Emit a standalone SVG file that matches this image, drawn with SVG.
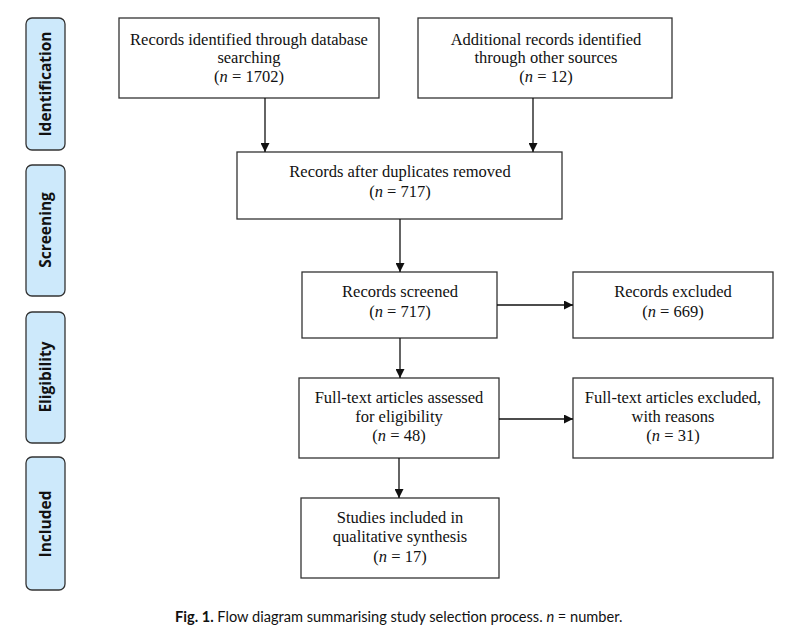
<svg xmlns="http://www.w3.org/2000/svg" width="800" height="643" viewBox="0 0 800 643">
<defs>
<marker id="ah" viewBox="0 0 10 10" refX="10" refY="5" markerWidth="9" markerHeight="9" markerUnits="userSpaceOnUse" orient="auto">
<path d="M0,0 L10,5 L0,10 z" fill="#111"/>
</marker>
<style>
.box{fill:#fff;stroke:#333;stroke-width:1.3}
.phase{fill:#cde9fb;stroke:#333;stroke-width:1.3}
.t{font-family:"Liberation Serif","Times New Roman",serif;font-size:16.5px;fill:#111;text-anchor:middle}
.p{font-family:"Open Sans","Noto Sans",sans-serif;font-size:15.5px;font-weight:bold;fill:#111;text-anchor:middle}
.c{font-family:Lato,"Noto Sans",sans-serif;font-size:14.6px;fill:#111}
.ln{stroke:#111;stroke-width:1.3;fill:none}
</style>
</defs>
<rect width="800" height="643" fill="#fff"/>
<g id="phase-identification"><rect class="phase" x="26" y="18" width="39" height="132" rx="6"/><text class="p" transform="translate(51,84) rotate(-90)">Identification</text></g>
<g id="phase-screening"><rect class="phase" x="26" y="165" width="39" height="131" rx="6"/><text class="p" transform="translate(51,230) rotate(-90)">Screening</text></g>
<g id="phase-eligibility"><rect class="phase" x="26" y="312" width="39" height="131" rx="6"/><text class="p" transform="translate(51,377) rotate(-90)">Eligibility</text></g>
<g id="phase-included"><rect class="phase" x="26" y="457" width="39" height="133" rx="6"/><text class="p" transform="translate(51,524) rotate(-90)">Included</text></g>

<g id="n-db"><rect class="box" x="119" y="18" width="260" height="80"/>
<text class="t" x="249" y="45">Records identified through database</text>
<text class="t" x="249" y="63">searching</text>
<text class="t" x="249" y="82">(<tspan font-style="italic">n</tspan> = 1702)</text></g>
<g id="n-other"><rect class="box" x="418" y="18" width="254" height="80"/>
<text class="t" x="546" y="45">Additional records identified</text>
<text class="t" x="546" y="63">through other sources</text>
<text class="t" x="546" y="82">(<tspan font-style="italic">n</tspan> = 12)</text></g>
<g id="n-dup"><rect class="box" x="237" y="152" width="325" height="67"/>
<text class="t" x="400" y="177">Records after duplicates removed</text>
<text class="t" x="400" y="197">(<tspan font-style="italic">n</tspan> = 717)</text></g>
<g id="n-screened"><rect class="box" x="302" y="272" width="195" height="66"/>
<text class="t" x="400" y="297">Records screened</text>
<text class="t" x="400" y="317">(<tspan font-style="italic">n</tspan> = 717)</text></g>
<g id="n-excluded"><rect class="box" x="573" y="272" width="200" height="66"/>
<text class="t" x="673" y="297">Records excluded</text>
<text class="t" x="673" y="317">(<tspan font-style="italic">n</tspan> = 669)</text></g>
<g id="n-fulltext"><rect class="box" x="299" y="378" width="200" height="80"/>
<text class="t" x="399" y="403">Full-text articles assessed</text>
<text class="t" x="399" y="422">for eligibility</text>
<text class="t" x="399" y="441">(<tspan font-style="italic">n</tspan> = 48)</text></g>
<g id="n-ftexcluded"><rect class="box" x="573" y="378" width="200" height="80"/>
<text class="t" x="673" y="403">Full-text articles excluded,</text>
<text class="t" x="673" y="422">with reasons</text>
<text class="t" x="673" y="441">(<tspan font-style="italic">n</tspan> = 31)</text></g>
<g id="n-included"><rect class="box" x="301" y="498" width="198" height="80"/>
<text class="t" x="400" y="523">Studies included in</text>
<text class="t" x="400" y="542">qualitative synthesis</text>
<text class="t" x="400" y="562">(<tspan font-style="italic">n</tspan> = 17)</text></g>

<g id="connectors">
<line class="ln" x1="265" y1="98" x2="265" y2="152" marker-end="url(#ah)"/>
<line class="ln" x1="533" y1="98" x2="533" y2="152" marker-end="url(#ah)"/>
<line class="ln" x1="400" y1="219" x2="400" y2="272" marker-end="url(#ah)"/>
<line class="ln" x1="497" y1="305" x2="573" y2="305" marker-end="url(#ah)"/>
<line class="ln" x1="400" y1="338" x2="400" y2="378" marker-end="url(#ah)"/>
<line class="ln" x1="499" y1="419" x2="573" y2="419" marker-end="url(#ah)"/>
<line class="ln" x1="399" y1="458" x2="399" y2="498" marker-end="url(#ah)"/>
</g>

<text id="caption" class="c" x="175" y="622"><tspan font-weight="bold">Fig. 1.</tspan>  Flow diagram summarising study selection process. <tspan font-style="italic">n</tspan> = number.</text>
</svg>
